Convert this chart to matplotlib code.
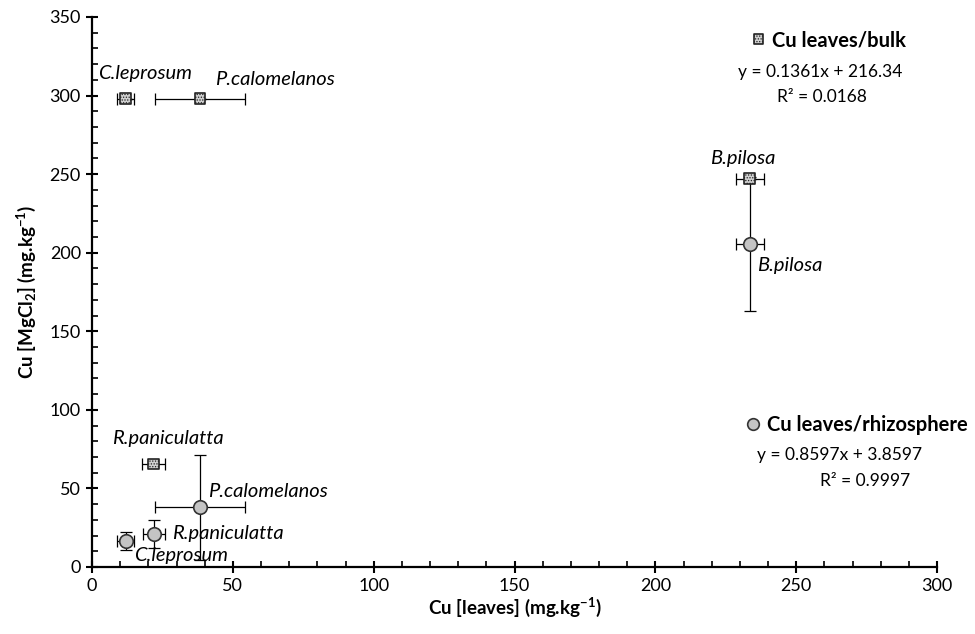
import matplotlib
matplotlib.use('Agg')
import matplotlib.pyplot as plt
from matplotlib.ticker import MultipleLocator

plt.rcParams['font.family'] = ['Lato', 'DejaVu Sans']
plt.rcParams['mathtext.default'] = 'regular'
plt.rcParams['hatch.linewidth'] = 0.6
plt.rcParams['hatch.color'] = '#555555'

# Cu leaves vs Cu MgCl2, bulk soil (squares)
bulk_species = ['C.leprosum', 'P.calomelanos', 'B.pilosa', 'R.paniculatta']
bulk_x = [12, 38.3, 233.5, 21.8]
bulk_y = [298, 298, 247, 65.5]
bulk_xerr = [3, 16, 5, 4]
bulk_yerr = [0, 0, 0, 0]

# rhizosphere (circles)
rhizo_species = ['C.leprosum', 'R.paniculatta', 'P.calomelanos', 'B.pilosa']
rhizo_x = [12, 22, 38.3, 233.5]
rhizo_y = [16.5, 21, 38, 205.5]
rhizo_xerr = [3, 4, 16, 5]
rhizo_yerr = [6, 9, 33.5, 42.5]

# where the species names sit (data coords)
bulk_lbl = [(2, 314), (43.5, 310), (219.5, 260), (7, 82)]
rhizo_lbl = [(15, 7.5), (28.5, 21.5), (41, 48), (236, 192)]

fig = plt.figure(figsize=(9.75, 6.34), dpi=100)
ax = fig.add_axes([0.0944, 0.1057, 0.8667, 0.8675])

ax.errorbar(bulk_x, bulk_y, xerr=bulk_xerr, yerr=bulk_yerr, fmt='none',
            ecolor='black', elinewidth=0.9, capsize=4, capthick=0.9, zorder=2)
ax.errorbar(rhizo_x, rhizo_y, xerr=rhizo_xerr, yerr=rhizo_yerr, fmt='none',
            ecolor='black', elinewidth=0.9, capsize=4, capthick=0.9, zorder=2)
ax.scatter(bulk_x, bulk_y, marker='s', s=60, facecolor='#d0d0d0',
           edgecolor='#222222', linewidth=1.2, hatch='......', zorder=3)
ax.scatter(rhizo_x, rhizo_y, marker='o', s=95, facecolor='#c4c4c4',
           edgecolor='#333333', linewidth=1.2, zorder=3)

for name, (lx, ly) in zip(bulk_species, bulk_lbl):
    ax.text(lx, ly, name, fontsize=14.5, style='italic', va='center', ha='left')
for name, (lx, ly) in zip(rhizo_species, rhizo_lbl):
    ax.text(lx, ly, name, fontsize=14.5, style='italic', va='center', ha='left')

# trendline legends
ax.scatter([236.5], [336], marker='s', s=45, facecolor='#d0d0d0',
           edgecolor='#222222', linewidth=1.2, hatch='......', clip_on=False)
ax.text(241.5, 335, 'Cu leaves/bulk', fontsize=14.5, fontweight='bold', va='center')
ax.text(258.5, 315, 'y = 0.1361x + 216.34', fontsize=12.5, ha='center', va='center')
ax.text(259, 299, 'R² = 0.0168', fontsize=12.5, ha='center', va='center')

ax.scatter([234.5], [91], marker='o', s=70, facecolor='#c4c4c4',
           edgecolor='#333333', linewidth=1.2, clip_on=False)
ax.text(239.5, 90.5, 'Cu leaves/rhizosphere', fontsize=14.5, fontweight='bold', va='center')
ax.text(265.5, 71, 'y = 0.8597x + 3.8597', fontsize=12.5, ha='center', va='center')
ax.text(274.5, 55, 'R² = 0.9997', fontsize=12.5, ha='center', va='center')

ax.set_xlim(0, 300)
ax.set_ylim(0, 350)
ax.xaxis.set_major_locator(MultipleLocator(50))
ax.xaxis.set_minor_locator(MultipleLocator(10))
ax.yaxis.set_major_locator(MultipleLocator(50))
ax.yaxis.set_minor_locator(MultipleLocator(10))
ax.tick_params(which='major', direction='inout', length=9, width=1.5, labelsize=13)
ax.tick_params(which='minor', direction='in', length=4.5, width=1.2)
for s in ['top', 'right']:
    ax.spines[s].set_visible(False)
for s in ['left', 'bottom']:
    ax.spines[s].set_linewidth(1.6)

ax.set_xlabel('Cu [leaves] (mg.kg$^{-1}$)', fontsize=13.5, fontweight='bold', labelpad=1)
ax.set_ylabel('Cu [MgCl$_2$] (mg.kg$^{-1}$)', fontsize=13.5, fontweight='bold', labelpad=8)

fig.savefig('out.png', dpi=100)
